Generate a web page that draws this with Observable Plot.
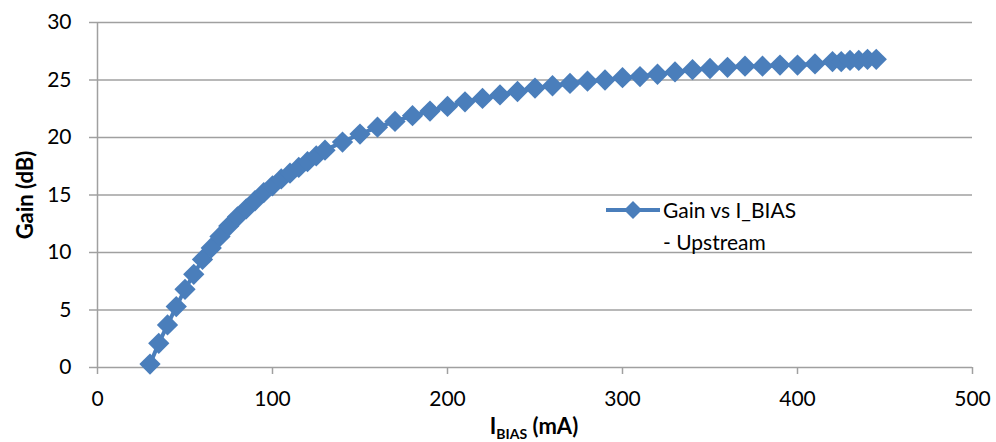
<!DOCTYPE html>
<html>
<head>
<meta charset="utf-8">
<script src="https://cdn.jsdelivr.net/npm/d3@7"></script>
<script src="https://cdn.jsdelivr.net/npm/@observablehq/plot@0.6"></script>
<style>
  html, body { margin: 0; padding: 0; background: #fff; }
  #wrap { position: relative; width: 996px; height: 442px; font-family: Lato, "Open Sans", sans-serif; }
  #wrap svg { display: block; }
  .lbl { position: absolute; color: #000; font-size: 21px; white-space: nowrap; }
</style>
</head>
<body>
<div id="wrap"></div>
<script>
// I_BIAS (mA)
const current = [30,35,40,45,50,55,60,65,70,75,80,85,90,95,100,105,110,115,120,125,130,
  140,150,160,170,180,190,200,210,220,230,240,250,260,270,280,290,300,310,320,330,340,
  350,360,370,380,390,400,410,420,425,430,435,440,445];
// Gain (dB)
const gain = [0.3,2.1,3.7,5.3,6.8,8.1,9.4,10.4,11.4,12.3,13.1,13.8,14.5,15.2,15.8,16.4,16.9,17.4,17.9,18.4,18.9,
  19.6,20.3,20.9,21.4,21.9,22.3,22.7,23.1,23.4,23.7,24.0,24.3,24.5,24.7,24.9,25.0,25.2,25.3,25.5,25.7,25.9,
  26.0,26.1,26.2,26.2,26.3,26.3,26.4,26.6,26.6,26.7,26.7,26.8,26.8];
const xTicks = [0,100,200,300,400,500];
const yTicks = [0,5,10,15,20,25,30];
const seriesName = "Gain vs I_BIAS - Upstream";

const data = current.map((c, i) => ({current: c, gain: gain[i]}));
const blue = "#4a7ebb";
const grid = "#a0a0a0";

const chart = Plot.plot({
  width: 996,
  height: 442,
  marginLeft: 97,
  marginRight: 24,
  marginTop: 22,
  marginBottom: 75,
  style: {fontFamily: "Lato, 'Open Sans', sans-serif", fontSize: "21px", background: "#fff", color: "#000"},
  x: {domain: [0, 500]},
  y: {domain: [0, 30]},
  marks: [
    Plot.ruleY(yTicks, {stroke: grid, strokeWidth: 1.5}),
    Plot.ruleX([0], {stroke: grid, strokeWidth: 1.5}),
    Plot.axisY(yTicks, {tickSize: 8, tickPadding: 18, stroke: grid, strokeWidth: 1.5, fill: "#000", label: null, fontSize: 21}),
    Plot.axisX(xTicks, {tickSize: 7, tickPadding: 17, stroke: grid, strokeWidth: 1.5, fill: "#000", label: null, fontSize: 21}),
    Plot.line(data, {x: "current", y: "gain", stroke: blue, strokeWidth: 4}),
    Plot.dot(data, {x: "current", y: "gain", symbol: "diamond2", r: 9.6, fill: blue, stroke: "none"})
  ]
});

const wrap = document.getElementById("wrap");
wrap.appendChild(chart);

// Y axis title
const yl = document.createElement("div");
yl.className = "lbl";
yl.style.fontWeight = "bold";
yl.style.fontSize = "22px";
yl.style.left = "24px";
yl.style.top = "195px";
yl.style.transform = "translate(-50%, -50%) rotate(-90deg)";
yl.textContent = "Gain (dB)";
wrap.appendChild(yl);

// X axis title with subscript
const xl = document.createElement("div");
xl.className = "lbl";
xl.style.fontWeight = "bold";
xl.style.fontSize = "22px";
xl.style.left = "534px";
xl.style.top = "427px";
xl.style.transform = "translate(-50%, -50%)";
xl.innerHTML = 'I<sub style="font-size:14px;vertical-align:-5px;">BIAS</sub> (mA)';
wrap.appendChild(xl);

// Legend
const lg = document.createElement("div");
lg.style.position = "absolute";
lg.style.left = "604px";
lg.style.top = "196px";
lg.innerHTML = `
<svg width="58" height="28" style="position:absolute;left:0;top:0;">
  <line x1="2" y1="14" x2="56" y2="14" stroke="${blue}" stroke-width="4"/>
  <path d="M29,5 L38,14 L29,23 L20,14 Z" fill="${blue}"/>
</svg>
<div class="lbl" style="left:59px;top:0px;line-height:28px;">Gain vs I_BIAS</div>
<div class="lbl" style="left:59px;top:32px;line-height:28px;">- Upstream</div>`;
wrap.appendChild(lg);
</script>
</body>
</html>
